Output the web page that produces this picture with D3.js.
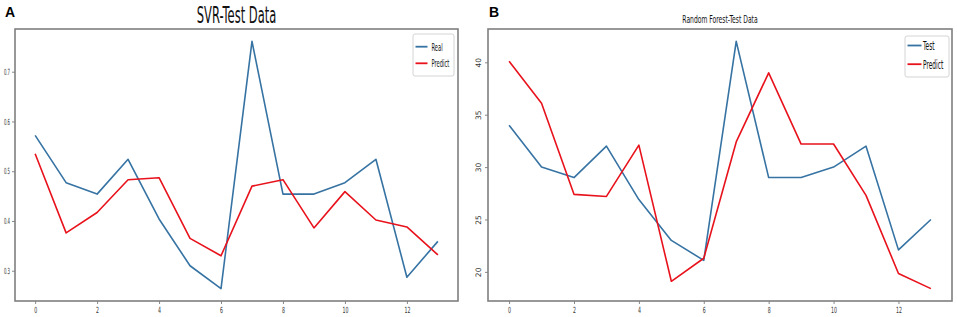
<!DOCTYPE html>
<html>
<head>
<meta charset="utf-8">
<script src="https://cdn.jsdelivr.net/npm/d3@7"></script>
<style>
  body { margin: 0; background: #fff; }
  svg { display: block; }
  text { font-family: "DejaVu Sans", sans-serif; }
</style>
</head>
<body>
<div id="chart"></div>
<script>
// values
const steps = d3.range(0, 14);
const xTickValues = [0, 2, 4, 6, 8, 10, 12];

const svrReal    = [0.572, 0.477, 0.454, 0.524, 0.404, 0.310, 0.264, 0.761, 0.454, 0.454, 0.477, 0.524, 0.287, 0.359];
const svrPredict = [0.535, 0.376, 0.417, 0.483, 0.487, 0.365, 0.330, 0.470, 0.483, 0.386, 0.459, 0.402, 0.388, 0.332];
const svrYTicks  = [0.3, 0.4, 0.5, 0.6, 0.7];

const rfTest     = [34, 30, 29, 32, 26.9, 23, 21.1, 42, 29, 29, 30, 32, 22.1, 25];
const rfPredict  = [40.1, 36.1, 27.4, 27.2, 32.1, 19.1, 21.3, 32.4, 39, 32.2, 32.2, 27.3, 19.85, 18.4];
const rfYTicks   = [20, 25, 30, 35, 40];

const blue = "#3673a3";
const red = "#e8121c";

const svg = d3.select("#chart").append("svg")
    .attr("width", 957)
    .attr("height", 317);

// the picture is squashed sideways, so text gets narrowed too
function squash(sel, k) {
    sel.each(function() {
        let t = d3.select(this);
        let x = +t.attr("x") || 0, y = +t.attr("y") || 0;
        t.attr("x", 0).attr("y", 0)
            .attr("transform", `translate(${x},${y}) scale(${k},1)`);
    });
    return sel;
}

function drawPanel(p) {
    let g = svg.append("g");

    let all = p.series.flatMap(s => s.values);
    let lo = d3.min(all), hi = d3.max(all), pad = (hi - lo) * 0.05;

    let x = d3.scaleLinear().domain([-0.65, 13.65]).range([p.left, p.right]);
    let y = d3.scaleLinear().domain([lo - pad, hi + pad]).range([p.bottom, p.top]);

    // lines
    let line = d3.line().x((d, i) => x(steps[i])).y(d => y(d));
    p.series.forEach(s => {
        g.append("path")
            .datum(s.values)
            .attr("fill", "none")
            .attr("stroke", s.color)
            .attr("stroke-width", 1.6)
            .attr("stroke-linejoin", "round")
            .attr("d", line);
    });

    // axes
    let xAxis = g.append("g")
        .attr("transform", `translate(0,${p.bottom})`)
        .call(d3.axisBottom(x).tickValues(xTickValues).tickSize(3).tickPadding(2).tickFormat(d3.format("d")));
    let yAxis = g.append("g")
        .attr("transform", `translate(${p.left},0)`)
        .call(d3.axisLeft(y).tickValues(p.yTicks).tickSize(3).tickPadding(2).tickFormat(p.yFormat));

    [xAxis, yAxis].forEach(a => {
        a.select(".domain").remove();
        a.selectAll(".tick line").attr("stroke", "#888");
        a.selectAll(".tick text")
            .attr("fill", "#333")
            .style("font-size", "8.5px");
    });
    xAxis.selectAll(".tick text").attr("dy", "0.85em");
    squash(xAxis.selectAll(".tick text"), 0.55);

    if (p.rotateY) {
        yAxis.selectAll(".tick text")
            .attr("text-anchor", "middle")
            .attr("x", null)
            .attr("dy", null)
            .style("font-size", "7.5px")
            .attr("transform", "translate(-7,0) rotate(-90)");
    } else {
        squash(yAxis.selectAll(".tick text"), 0.45);
    }

    // frame
    g.append("rect")
        .attr("x", p.left)
        .attr("y", p.top)
        .attr("width", p.right - p.left)
        .attr("height", p.bottom - p.top)
        .attr("fill", "none")
        .attr("stroke", "#7f7f7f")
        .attr("stroke-width", 1.6);

    // title
    squash(g.append("text")
        .attr("x", (p.left + p.right) / 2)
        .attr("y", 23)
        .attr("text-anchor", "middle")
        .style("font-size", p.titleSize + "px")
        .attr("fill", "#111")
        .text(p.title), p.titleK);

    // panel letter
    g.append("text")
        .attr("x", p.letterX)
        .attr("y", 17)
        .style("font-family", "'Liberation Sans', Arial, sans-serif")
        .style("font-weight", "bold")
        .style("font-size", "14px")
        .text(p.letter);

    // legend
    let lg = g.append("g");
    lg.append("rect")
        .attr("x", p.legend.x)
        .attr("y", p.legend.y)
        .attr("width", p.legend.w)
        .attr("height", p.legend.h)
        .attr("rx", 2)
        .attr("fill", "#fff")
        .attr("stroke", "#d4d4d4");
    p.series.forEach((s, i) => {
        let ly = p.legend.y + p.legend.row0 + i * p.legend.rowGap;
        lg.append("line")
            .attr("x1", p.legend.x + 2.5)
            .attr("x2", p.legend.x + 2.5 + p.legend.lineLen)
            .attr("y1", ly)
            .attr("y2", ly)
            .attr("stroke", s.color)
            .attr("stroke-width", 1.8);
        squash(lg.append("text")
            .attr("x", p.legend.x + p.legend.textOff)
            .attr("y", ly)
            .attr("dy", "0.35em")
            .style("font-size", p.legend.fontSize + "px")
            .attr("fill", "#111")
            .text(s.name), 0.47);
    });
}

drawPanel({
    left: 15, right: 458, top: 29, bottom: 301,
    series: [
        {name: "Real", values: svrReal, color: blue},
        {name: "Predict", values: svrPredict, color: red}
    ],
    yTicks: svrYTicks,
    yFormat: d3.format(".1f"),
    rotateY: false,
    title: "SVR-Test Data", titleSize: 23, titleK: 0.5,
    letter: "A", letterX: 5,
    legend: {x: 413, y: 34, w: 41, h: 42, row0: 12.7, rowGap: 16.6, lineLen: 12, textOff: 18.5, fontSize: 11}
});

drawPanel({
    left: 488, right: 952, top: 29, bottom: 301,
    series: [
        {name: "Test", values: rfTest, color: blue},
        {name: "Predict", values: rfPredict, color: red}
    ],
    yTicks: rfYTicks,
    yFormat: d3.format("d"),
    rotateY: true,
    title: "Random Forest-Test Data", titleSize: 11, titleK: 0.55,
    letter: "B", letterX: 489,
    legend: {x: 905, y: 36, w: 44, h: 41, row0: 9.5, rowGap: 18.7, lineLen: 14, textOff: 18, fontSize: 12.5}
});
</script>
</body>
</html>
